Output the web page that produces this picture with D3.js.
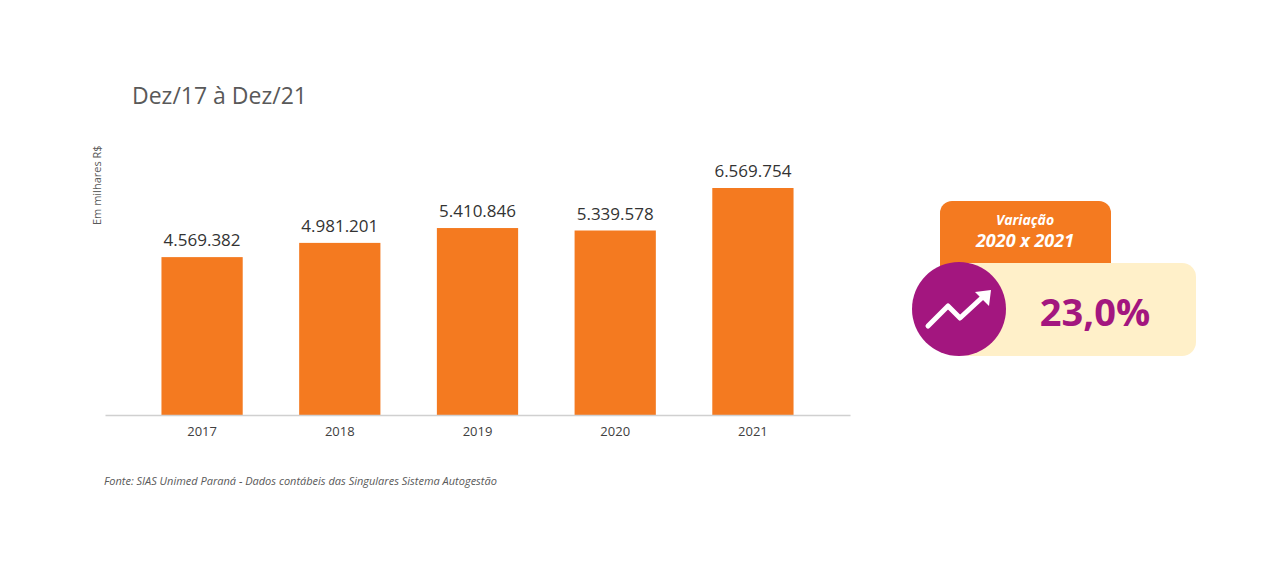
<!DOCTYPE html>
<html><head><meta charset="utf-8">
<script src="https://cdn.jsdelivr.net/npm/d3@7"></script>
<style>body{margin:0;background:#fff;font-family:"Open Sans",sans-serif}</style>
</head><body>
<svg id="c" width="1280" height="567"></svg>
<script>
// Data
const years = ["2017", "2018", "2019", "2020", "2021"];
const values = [4569382, 4981201, 5410846, 5339578, 6569754];
const valueLabels = ["4.569.382", "4.981.201", "5.410.846", "5.339.578", "6.569.754"];
const variation = "23,0%";

const svg = d3.select("#c");
const orange = "#f47a20", purple = "#a3167f";

const x = d3.scaleBand().domain(years).range([105, 850]).padding(0.41);
const y = d3.scaleLinear().domain([0, 6569754]).range([415, 188]);

svg.append("text").attr("x", 132).attr("y", 104).attr("font-size", 23).attr("fill", "#595959").text("Dez/17 à Dez/21");
svg.append("text").attr("transform", "translate(101,225) rotate(-90)").attr("font-size", 11).attr("fill", "#595959").text("Em milhares R$");

svg.selectAll(".bar").data(values).enter().append("rect")
  .attr("x", (d, i) => x(years[i])).attr("width", x.bandwidth())
  .attr("y", d => y(d)).attr("height", d => y(0) - y(d)).attr("fill", orange);

svg.selectAll(".lbl").data(values).enter().append("text")
  .attr("x", (d, i) => x(years[i]) + x.bandwidth() / 2).attr("y", d => y(d) - 11)
  .attr("text-anchor", "middle").attr("font-size", 17).attr("fill", "#333")
  .text((d, i) => valueLabels[i]);

const ax = svg.append("g").attr("transform", "translate(0,415)").call(d3.axisBottom(x).tickSize(0).tickPadding(12));
ax.select(".domain").attr("stroke", "#d0d0d0").attr("stroke-width", 1.5);
ax.selectAll("text").attr("font-size", 13).attr("fill", "#404040").attr("font-family", "Open Sans");

svg.append("text").attr("x", 104).attr("y", 485).attr("font-size", 11).attr("font-style", "italic").attr("fill", "#595959")
  .text("Fonte: SIAS Unimed Paraná - Dados contábeis das Singulares Sistema Autogestão");

// Variation badge
svg.append("rect").attr("x", 940).attr("y", 201).attr("width", 171).attr("height", 80).attr("rx", 12).attr("fill", orange);
svg.append("rect").attr("x", 955).attr("y", 263).attr("width", 241).attr("height", 93).attr("rx", 14).attr("fill", "#fff0c9");
svg.append("text").attr("x", 1025).attr("y", 225).attr("text-anchor", "middle").attr("font-size", 14).attr("font-weight", "bold").attr("font-style", "italic").attr("fill", "#fff").text("Variação");
svg.append("text").attr("x", 1025).attr("y", 247).attr("text-anchor", "middle").attr("font-size", 18).attr("font-weight", "bold").attr("font-style", "italic").attr("fill", "#fff").text("2020 x 2021");
svg.append("circle").attr("cx", 959).attr("cy", 309).attr("r", 47).attr("fill", purple);
svg.append("polyline").attr("points", "928,326 948,306 960,318 986,294").attr("fill", "none").attr("stroke", "#fff").attr("stroke-width", 5).attr("stroke-linecap", "round").attr("stroke-linejoin", "round");
svg.append("polygon").attr("points", "975,292 991,290 989,306").attr("fill", "#fff");
svg.append("text").attr("x", 1095).attr("y", 326).attr("text-anchor", "middle").attr("font-size", 38).attr("font-weight", "bold").attr("fill", purple).text(variation);
</script>
</body></html>
